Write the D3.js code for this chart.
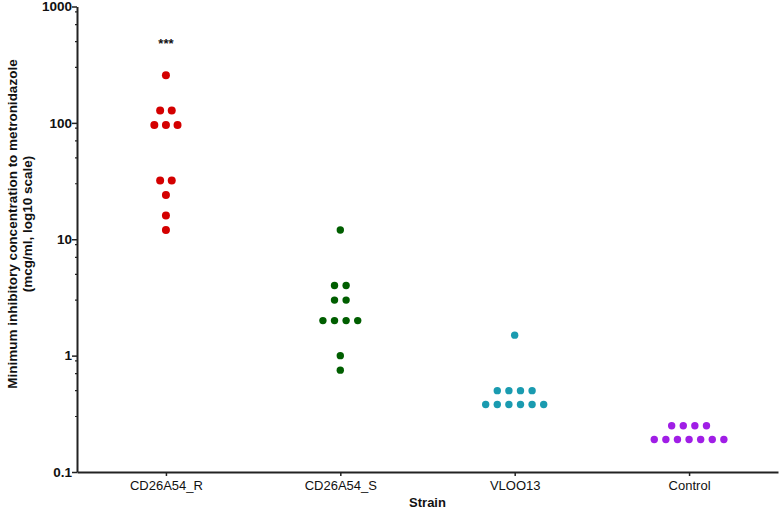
<!DOCTYPE html>
<html>
<head>
<meta charset="utf-8">
<script src="https://cdn.jsdelivr.net/npm/d3@7"></script>
<style>
  body { margin: 0; background: #fff; }
  svg { display: block; font-family: "Liberation Sans", Arial, sans-serif; }
</style>
</head>
<body>
<svg id="chart" width="781" height="510"></svg>
<script>
const categories = ["CD26A54_R", "CD26A54_S", "VLOO13", "Control"];
const valuesR = [256, 128, 128, 96, 96, 96, 32, 32, 24, 16, 12];
const valuesS = [12, 4, 4, 3, 3, 2, 2, 2, 2, 1, 0.75];
const valuesV = [1.5, 0.5, 0.5, 0.5, 0.5, 0.38, 0.38, 0.38, 0.38, 0.38, 0.38];
const valuesC = [0.25, 0.25, 0.25, 0.25, 0.19, 0.19, 0.19, 0.19, 0.19, 0.19, 0.19];
const seriesValues = [valuesR, valuesS, valuesV, valuesC];
const colors = ["#d40000", "#005e00", "#1a9bb0", "#a01ee6"];
const yTickValues = [0.1, 1, 10, 100, 1000];
const yTickLabels = ["0.1", "1", "10", "100", "1000"];
const yMinorFactors = [3, 5, 7, 9];
const annotation = { category: "CD26A54_R", text: "***", value: 500 };

const svg = d3.select("#chart");
const x = d3.scalePoint().domain(categories).range([77, 778]).padding(0.51);
const y = d3.scaleLog().domain([0.1, 1000]).range([472, 6.5]);

// y axis
const yAxis = d3.axisLeft(y).tickValues(yTickValues).tickFormat((d, i) => yTickLabels[i]).tickSize(5).tickSizeOuter(0);
const gy = svg.append("g").attr("transform", "translate(77,0)").call(yAxis);
gy.select(".domain").attr("stroke", "#222").attr("stroke-width", 2);
gy.selectAll(".tick line").attr("stroke", "#222").attr("stroke-width", 1.5);
gy.selectAll(".tick text").attr("font-size", 13.5).attr("font-weight", "bold").attr("fill", "#111").attr("x", -5)
  .attr("font-family", "'Liberation Sans', Arial, sans-serif");

// minor ticks
const minor = [];
for (let dec = 0.1; dec < 1000; dec *= 10) yMinorFactors.forEach(f => minor.push(dec * f));
svg.append("g").selectAll("line").data(minor).join("line")
  .attr("x1", 75).attr("x2", 77).attr("y1", d => y(d)).attr("y2", d => y(d))
  .attr("stroke", "#222").attr("stroke-width", 1.2);

// x axis
const xAxis = d3.axisBottom(x).tickSize(4).tickSizeOuter(0);
const gx = svg.append("g").attr("transform", "translate(0,472)").call(xAxis);
gx.select(".domain").attr("stroke", "#222").attr("stroke-width", 2);
gx.selectAll(".tick line").attr("stroke", "#222").attr("stroke-width", 1.5);
gx.selectAll(".tick text").attr("font-size", 13).attr("fill", "#111").attr("dy", "0.85em")
  .attr("font-family", "'Liberation Sans', Arial, sans-serif");

// axis titles
svg.append("text").attr("x", (77 + 778) / 2).attr("y", 507).attr("text-anchor", "middle")
  .attr("font-size", 13).attr("font-weight", "bold").attr("fill", "#111").text("Strain");
const yt = svg.append("text").attr("transform", "translate(0,224) rotate(-90)")
  .attr("text-anchor", "middle").attr("font-size", 13.5).attr("font-weight", "bold").attr("fill", "#111");
yt.append("tspan").attr("x", 0).attr("y", 17).text("Minimum inhibitory concentration to metronidazole");
yt.append("tspan").attr("x", 0).attr("y", 32).text("(mcg/ml, log10 scale)");

// points (column scatter)
const spacing = 11.6;
categories.forEach((cat, ci) => {
  const vals = seriesValues[ci];
  const groups = d3.groups(vals, v => v);
  const pts = [];
  groups.forEach(([v, arr]) => {
    arr.forEach((_, i) => pts.push({ v, off: (i - (arr.length - 1) / 2) * spacing }));
  });
  svg.append("g").selectAll("circle").data(pts).join("circle")
    .attr("cx", d => x(cat) + d.off)
    .attr("cy", d => y(d.v))
    .attr("r", ci === 0 ? 4 : 3.7)
    .attr("fill", colors[ci]);
});

// significance annotation
svg.append("text").attr("x", x(annotation.category)).attr("y", y(annotation.value) + 6)
  .attr("text-anchor", "middle").attr("font-size", 13).attr("font-weight", "bold").attr("fill", "#111")
  .text(annotation.text);
</script>
</body>
</html>
